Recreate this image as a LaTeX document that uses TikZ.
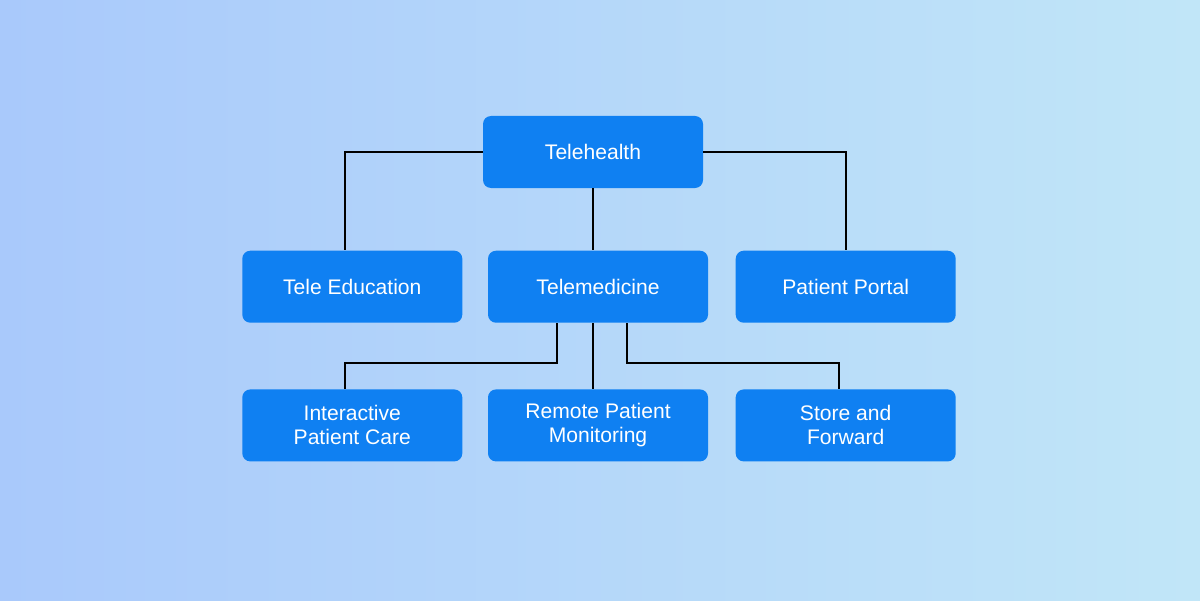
\documentclass[tikz,border=0pt]{standalone}
\usepackage{fontspec}
\setmainfont{Liberation Sans}
\usetikzlibrary{positioning}
\definecolor{boxblue}{HTML}{0F80F2}
\definecolor{bgleft}{HTML}{A9C9FB}
\definecolor{bgright}{HTML}{C1E6F8}
\tikzstyle{block} = [fill=boxblue, rectangle, rounded corners=0.16cm, minimum width=4.4cm, minimum height=1.44cm, text=white, align=center, font=\fontsize{12}{13.7}\selectfont]
\tikzstyle{link} = [draw=black, line width=1.1pt]

\begin{document}
\begin{tikzpicture}[node distance=1.24cm]
  \shade[left color=bgleft, right color=bgright] (0,0) rectangle (24,12);
  \useasboundingbox (0,0) rectangle (24,12);
  \node[block] (health) at (11.86,8.96) {Telehealth};
  \node[block, below=1.24cm of health, xshift=0.1cm] (medicine) {Telemedicine};
  \node[block, left=0.5cm of medicine] (education) {Tele Education};
  \node[block, right=0.54cm of medicine] (portal) {Patient Portal};
  \node[block, below=1.32cm of education] (care) {Interactive\\Patient Care};
  \node[block, below=1.32cm of medicine] (monitor) {Remote Patient\\Monitoring};
  \node[block, below=1.32cm of portal] (forward) {Store and\\Forward};
  % top level
  \draw[link] (health.west) -| ([xshift=-0.14cm]education.north);
  \draw[link] (health.east) -| (portal.north);
  \draw[link] (health.south) -- (health.south |- medicine.north);
  % telemedicine branches
  \coordinate (split) at ([yshift=-0.8cm]medicine.south);
  \draw[link] ([xshift=-0.82cm]medicine.south) |- ([xshift=-0.14cm]care.north |- split) -- ([xshift=-0.14cm]care.north);
  \draw[link] ([xshift=-0.1cm]medicine.south) -- ([xshift=-0.1cm]monitor.north);
  \draw[link] ([xshift=0.58cm]medicine.south) |- ([xshift=-0.14cm]forward.north |- split) -- ([xshift=-0.14cm]forward.north);
\end{tikzpicture}
\end{document}
